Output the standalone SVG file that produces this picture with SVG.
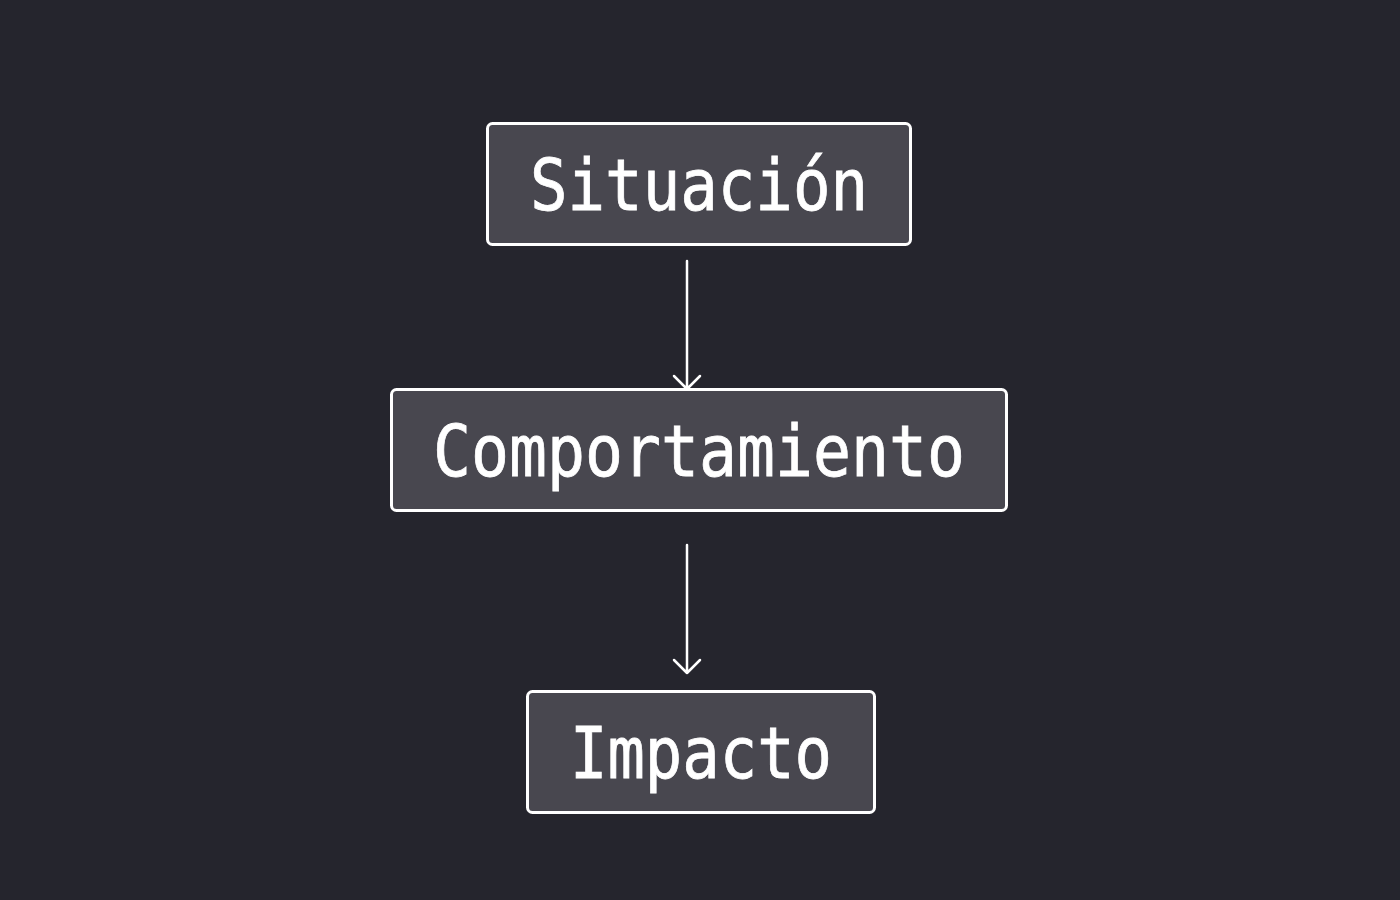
<svg xmlns="http://www.w3.org/2000/svg" width="1400" height="900" viewBox="0 0 1400 900">
<style>
.box{fill:#48474f;stroke:#ffffff;stroke-width:3}
.lbl{font-family:"DejaVu Sans Mono","Liberation Mono",monospace;font-size:71px;fill:#ffffff;text-anchor:middle;stroke:#ffffff;stroke-width:0.8}
.edge{stroke:#ffffff;stroke-width:2.5;fill:none;stroke-linecap:round;stroke-linejoin:round}
</style>
<rect width="1400" height="900" fill="#25252d"/>
<g id="n1">
<rect class="box" x="487.5" y="123.5" width="423" height="121" rx="5"/>
<text class="lbl" x="699" y="210" textLength="338" lengthAdjust="spacingAndGlyphs">Situación</text>
</g>
<g id="n2">
<rect class="box" x="391.5" y="389.5" width="615" height="121" rx="5"/>
<text class="lbl" x="699" y="476" textLength="532" lengthAdjust="spacingAndGlyphs">Comportamiento</text>
</g>
<g id="n3">
<rect class="box" x="527.5" y="691.5" width="347" height="121" rx="5"/>
<text class="lbl" x="701" y="778" textLength="262" lengthAdjust="spacingAndGlyphs">Impacto</text>
</g>
<g id="edges">
<path class="edge" d="M687 261 V389 M674 376 L687 389 L700 376"/>
<path class="edge" d="M687 545 V673 M674 660 L687 673 L700 660"/>
</g>
</svg>
